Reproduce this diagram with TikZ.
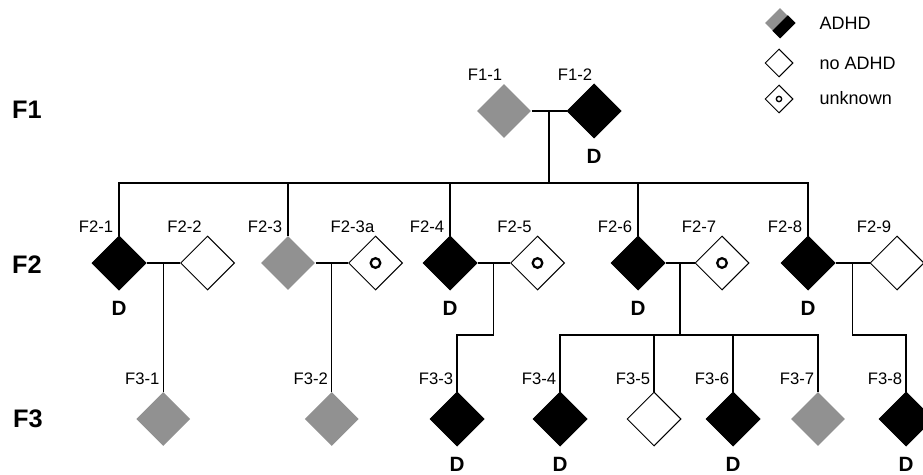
\documentclass[tikz,border=0pt]{standalone}
\usepackage{fontspec}
\setmainfont{Liberation Sans}
\usetikzlibrary{shapes.geometric,calc}
\definecolor{adhdgray}{RGB}{145,145,145}
\begin{document}
\begin{tikzpicture}[x=0.75pt,y=-0.75pt,
	person/.style={diamond,aspect=1,inner sep=0pt,minimum width=40.5pt,minimum height=40.5pt,line width=0.75pt},
	affected/.style={person,fill=black,draw=black},
	partial/.style={person,fill=adhdgray},
	healthy/.style={person,draw=black,fill=white},
	small/.style={minimum width=21pt,minimum height=21pt},
	link/.style={line width=1pt},
	ring/.style={line width=1.7pt},
	lab/.style={font=\fontsize{12.5}{14}\selectfont},
	dlab/.style={font=\fontsize{15.5}{17}\selectfont\bfseries},
	gen/.style={font=\fontsize{19}{21}\selectfont\bfseries},
	leg/.style={font=\fontsize{13.5}{16}\selectfont,anchor=west}]
\useasboundingbox (0,0) rectangle (923,474);

% generations
\node[gen] (g1) at (27,110) {F1};
\node[gen] (g2) at (27,265) {F2};
\node[gen] (g3) at (28,419) {F3};

% F1
\node[partial]  (f11) at (504,111) {};
\node[affected] (f12) at (594,111) {};

% F2
\node[affected] (f21)  at (119,263) {};
\node[healthy]  (f22)  at (207.5,263) {};
\node[partial]  (f23)  at (288,263) {};
\node[healthy]  (f23a) at (375.5,263) {};
\node[affected] (f24)  at (450,263) {};
\node[healthy]  (f25)  at (537.5,263) {};
\node[affected] (f26)  at (638,263) {};
\node[healthy]  (f27)  at (722,263) {};
\node[affected] (f28)  at (808,263) {};
\node[healthy]  (f29)  at (897,263) {};

% F3
\node[partial]  (f31) at (163.25,419) {};
\node[partial]  (f32) at (331.75,419) {};
\node[affected] (f33) at (457,419) {};
\node[affected] (f34) at (560,419) {};
\node[healthy]  (f35) at (654,419) {};
\node[affected] (f36) at (733,419) {};
\node[partial]  (f37) at (818,419) {};
\node[affected] (f38) at (906,419) {};

% unknown marks
\foreach \n in {f23a,f25,f27}
	\draw[ring] (\n.center) circle (3.6pt);

% names
\foreach \n/\t in {f11/F1-1,f12/F1-2}
	\node[lab] (\n-lab) at ($(\n)+(-19,-36)$) {\t};
\foreach \n/\t in {f21/F2-1,f22/F2-2,f23/F2-3,f23a/F2-3a,f24/F2-4,f25/F2-5,f26/F2-6,f27/F2-7,f28/F2-8,f29/F2-9}
	\node[lab] (\n-lab) at ($(\n)+(-23,-36)$) {\t};
\foreach \n/\t in {f31/F3-1,f32/F3-2,f33/F3-3,f34/F3-4,f35/F3-5,f36/F3-6,f37/F3-7,f38/F3-8}
	\node[lab] (\n-lab) at ($(\n)+(-21,-40)$) {\t};
\foreach \n in {f12,f21,f24,f26,f28,f33,f34,f36,f38}
	\node[dlab] (\n-d) at ($(\n)+(0,45)$) {D};

% couples
\draw[link] (f11) -- (f12);
\coordinate (m1) at ($(f11.east)!0.5!(f12.west)$);
\foreach \a/\b/\m in {f21/f22/m2,f23/f23a/m3,f24/f25/m4,f26/f27/m5,f28/f29/m6}{
	\draw[link] (\a) -- (\b);
	\coordinate (\m) at ($(\a.east)!0.5!(\b.west)$);
}

% F1 -> F2
\coordinate (sib) at ($(m1)+(0,72)$);
\draw[link] (m1) -- (sib);
\draw[link] (f21.north) |- (sib) -| (f28.north);
\foreach \n in {f23,f24,f26}
	\draw[link] (\n.north) -- (\n.north |- sib);

% F2 -> F3
\draw[link] (m2) -- (f31.north);
\draw[link] (m3) -- (f32.north);
\draw[link] (m4) -- ++(0,72) -| (f33.north);
\draw[link] (m5) -- ++(0,72) coordinate (b5);
\draw[link] (f34.north) |- (b5) -| (f37.north);
\foreach \n in {f35,f36}
	\draw[link] (\n.north) -- (\n.north |- b5);
\draw[link] (m6) -- ++(0,72) -| (f38.north);

% legend
\node[partial,small,minimum width=22.5pt,minimum height=22.5pt] (l1) at (780,23) {};
\fill (l1.east) -- (l1.south) -- ($(l1.south)!0.5!(l1.west)$) -- ($(l1.north)!0.5!(l1.east)$) -- cycle;
\node[healthy,small] (l2) at (779,63) {};
\node[healthy,small] (l3) at (779,99) {};
\draw[line width=1pt] (l3.center) circle (2pt);
\node[leg] (t1) at (815,23) {ADHD};
\node[leg] (t2) at (815,63) {no ADHD};
\node[leg] (t3) at (815,98) {unknown};

\end{tikzpicture}
\end{document}
